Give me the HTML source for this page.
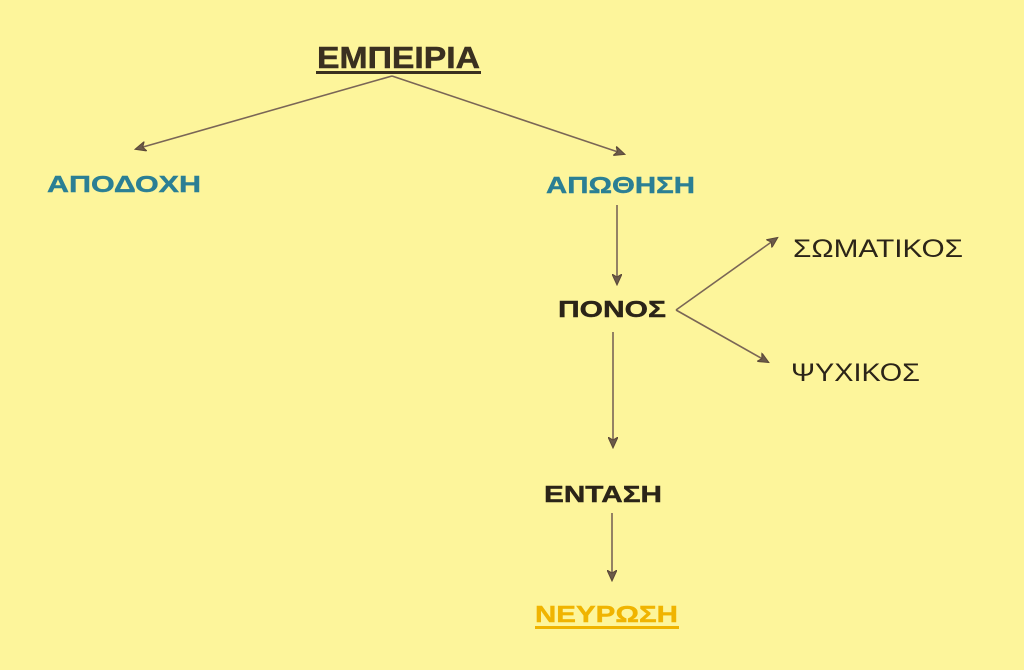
<!DOCTYPE html>
<html><head><meta charset="utf-8"><style>
html,body{margin:0;padding:0;background:#fdf59b;}
svg{display:block}
text{font-family:"Liberation Sans",sans-serif;}
</style></head><body>
<svg width="1024" height="670" viewBox="0 0 1024 670" xmlns="http://www.w3.org/2000/svg">
<defs>
<marker id="a" markerWidth="12" markerHeight="10" refX="10" refY="5" orient="auto" markerUnits="userSpaceOnUse">
<path d="M0,0 L11,5 L0,10 L3,5 Z" fill="#6b5a4a" stroke="#5a4838" stroke-width="1"/>
</marker>
</defs>
<rect width="1024" height="670" fill="#fdf59b"/>
<g stroke="#7a6656" stroke-width="1.6" fill="none" marker-end="url(#a)">
<line x1="392" y1="76" x2="136" y2="149"/>
<line x1="392" y1="76" x2="624" y2="154"/>
<line x1="617" y1="205" x2="617" y2="284"/>
<line x1="676" y1="310" x2="777" y2="238"/>
<line x1="676" y1="310" x2="768" y2="362"/>
<line x1="613" y1="332" x2="613" y2="447"/>
<line x1="612" y1="513" x2="612" y2="580"/>
</g>
<text x="317" y="68" font-size="31" font-weight="bold" fill="#3a3020" stroke="#3a3020" stroke-width="0.5" textLength="163" lengthAdjust="spacingAndGlyphs">ΕΜΠΕΙΡΙΑ</text>
<rect x="316" y="71" width="165" height="3" fill="#3a3020"/>
<text x="47" y="192" font-size="23" font-weight="bold" fill="#2b7f94" stroke="#2b7f94" stroke-width="0.4" textLength="154" lengthAdjust="spacingAndGlyphs">ΑΠΟΔΟΧΗ</text>
<text x="546" y="193" font-size="23" font-weight="bold" fill="#2b7f94" stroke="#2b7f94" stroke-width="0.4" textLength="149" lengthAdjust="spacingAndGlyphs">ΑΠΩΘΗΣΗ</text>
<text x="558" y="317" font-size="23" font-weight="bold" fill="#2b2418" stroke="#2b2418" stroke-width="0.4" textLength="108" lengthAdjust="spacingAndGlyphs">ΠΟΝΟΣ</text>
<text x="793" y="257" font-size="25" fill="#2b2418" textLength="170" lengthAdjust="spacingAndGlyphs">ΣΩΜΑΤΙΚΟΣ</text>
<text x="791" y="381" font-size="25" fill="#2b2418" textLength="129" lengthAdjust="spacingAndGlyphs">ΨΥΧΙΚΟΣ</text>
<text x="544" y="502" font-size="23" font-weight="bold" fill="#2b2418" stroke="#2b2418" stroke-width="0.4" textLength="118" lengthAdjust="spacingAndGlyphs">ΕΝΤΑΣΗ</text>
<text x="535" y="622" font-size="23" font-weight="bold" fill="#f0b400" stroke="#f0b400" stroke-width="0.4" textLength="143" lengthAdjust="spacingAndGlyphs">ΝΕΥΡΩΣΗ</text>
<rect x="535" y="626" width="144" height="3" fill="#f0b400"/>
</svg>
</body></html>
